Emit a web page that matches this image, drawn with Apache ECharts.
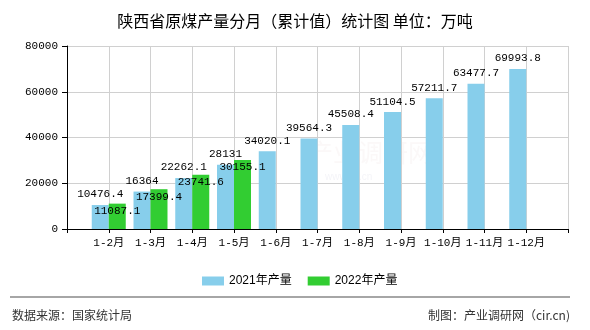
<!DOCTYPE html>
<html>
<head>
<meta charset="utf-8">
<script src="https://cdn.jsdelivr.net/npm/echarts@6/dist/echarts.min.js"></script>
<style>
  html, body { margin: 0; padding: 0; background: #fff; }
  #chart { width: 590px; height: 330px; }
</style>
</head>
<body>
<div id="chart"></div>
<script>
// Cumulative monthly raw-coal output, Shaanxi (10k tonnes)
var months = ['', '1-2月', '1-3月', '1-4月', '1-5月', '1-6月', '1-7月', '1-8月', '1-9月', '1-10月', '1-11月', '1-12月', ''];
var output2021 = ['-', 10476.4, 16364, 22262.1, 28131, 34020.1, 39564.3, 45508.4, 51104.5, 57211.7, 63477.7, 69993.8, '-'];
var output2022 = ['-', 11087.1, 17399.4, 23741.6, 30155.1, '-', '-', '-', '-', '-', '-', '-', '-'];
var seriesNames = ['2021年产量', '2022年产量'];
var yTicks = { min: 0, max: 80000, interval: 20000 };

var MONO = "'Liberation Mono', 'DejaVu Sans Mono', 'Noto Sans CJK SC', monospace";
var CJK = "'Noto Sans CJK SC', sans-serif";

var chart = echarts.init(document.getElementById('chart'), null, { renderer: 'canvas' });
chart.setOption({
  animation: false,
  backgroundColor: '#fff',
  title: {
    text: '陕西省原煤产量分月（累计值）统计图 单位：万吨',
    left: 'center',
    top: 8,
    textStyle: { fontFamily: CJK, fontSize: 16, fontWeight: 'normal', color: '#000' }
  },
  legend: {
    data: seriesNames,
    left: 197,
    top: 270,
    icon: 'rect',
    itemWidth: 22,
    itemHeight: 9,
    itemGap: 16,
    textStyle: { fontFamily: "'Liberation Sans', 'Noto Sans CJK SC', sans-serif", fontSize: 12, color: '#000' }
  },
  grid: { left: 67, right: 22, top: 46, bottom: 101, containLabel: false },
  xAxis: {
    type: 'category',
    data: months,
    boundaryGap: false,
    axisLine: { lineStyle: { color: '#000', width: 1 } },
    axisTick: { show: true, length: 4, lineStyle: { color: '#000' } },
    axisLabel: { fontFamily: MONO, fontSize: 11, color: '#000', margin: 9, interval: 0 },
    splitLine: { show: true, lineStyle: { color: '#d0d0d0', width: 1 } }
  },
  yAxis: {
    type: 'value',
    min: yTicks.min,
    max: yTicks.max,
    interval: yTicks.interval,
    axisLine: { show: true, lineStyle: { color: '#000', width: 1 } },
    axisTick: { show: true, length: 5, lineStyle: { color: '#000' } },
    axisLabel: {
      fontFamily: MONO, fontSize: 11, color: '#000', margin: 9,
      formatter: function (v) { return String(v); }
    },
    splitLine: { show: true, lineStyle: { color: '#d0d0d0', width: 1 } }
  },
  series: [
    {
      name: seriesNames[0],
      type: 'bar',
      data: output2021,
      barWidth: 17,
      barGap: '0%',
      itemStyle: { color: '#87CEEB' },
      label: {
        show: true,
        position: 'top',
        distance: 5,
        fontFamily: MONO,
        fontSize: 11,
        color: '#000'
      }
    },
    {
      name: seriesNames[1],
      type: 'bar',
      data: output2022,
      barWidth: 17,
      barGap: '0%',
      itemStyle: { color: '#32CD32' },
      label: {
        show: true,
        position: 'insideTop',
        distance: 2,
        fontFamily: MONO,
        fontSize: 11,
        color: '#000'
      }
    }
  ],
  graphic: [
    {
      type: 'text',
      left: 308,
      top: 140,
      z: -1,
      silent: true,
      style: { text: '产业调研网', font: "25px 'Noto Sans CJK SC'", fill: 'rgba(225,200,200,0.12)' }
    },
    {
      type: 'text',
      left: 325,
      top: 172,
      z: -1,
      silent: true,
      style: { text: 'www.cir.cn', font: "10px 'Liberation Sans'", fill: 'rgba(200,200,220,0.2)' }
    },
    {
      type: 'line',
      shape: { x1: 10, y1: 297, x2: 570, y2: 297 },
      style: { stroke: '#888', lineWidth: 1.5 }
    },
    {
      type: 'text',
      left: 12,
      top: 309,
      style: { text: '数据来源：国家统计局', font: "12px 'Noto Sans CJK SC'", fill: '#333' }
    },
    {
      type: 'text',
      right: 20,
      top: 309,
      style: { text: '制图：产业调研网（cir.cn)', font: "12px 'Noto Sans CJK SC'", fill: '#333' }
    }
  ]
});
</script>
</body>
</html>
